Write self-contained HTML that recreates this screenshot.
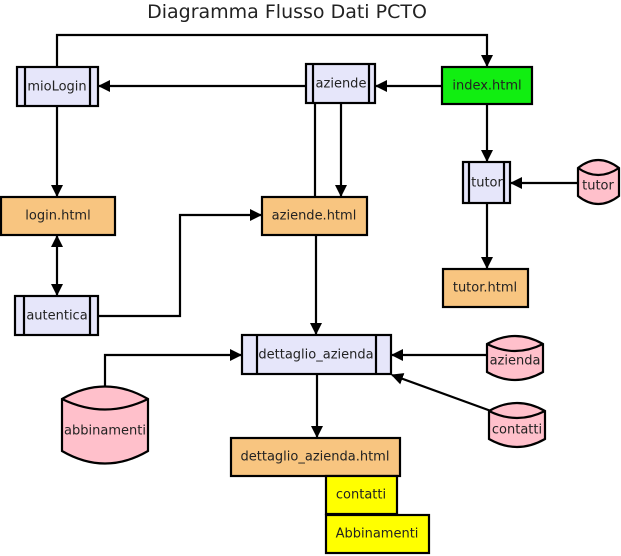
<!DOCTYPE html>
<html><head><meta charset="utf-8"><style>
html,body{margin:0;padding:0;background:#fff;}
svg{display:block;}
text{font-family:"DejaVu Sans","Liberation Sans",sans-serif;font-size:13px;fill:#222;text-anchor:middle;dominant-baseline:central;}
</style></head><body>
<svg width="621" height="556" viewBox="0 0 621 556" xmlns="http://www.w3.org/2000/svg">
<defs><marker id="a" markerWidth="12" markerHeight="12" refX="11" refY="6" orient="auto" markerUnits="userSpaceOnUse"><path d="M0,0 L12,6 L0,12 z" fill="#000"/></marker>
<marker id="s" markerWidth="12" markerHeight="12" refX="1" refY="6" orient="auto" markerUnits="userSpaceOnUse"><path d="M12,0 L0,6 L12,12 z" fill="#000"/></marker></defs>
<text x="287" y="12" style="font-size:19px">Diagramma Flusso Dati PCTO</text>
<g stroke="#000" stroke-width="2.2" fill="none">
<polyline points="57,67 57,35 487,35 487,66" marker-end="url(#a)"/>
<line x1="306" y1="86" x2="99" y2="86" marker-end="url(#a)"/>
<line x1="442" y1="86" x2="376" y2="86" marker-end="url(#a)"/>
<line x1="315" y1="103" x2="315" y2="197"/>
<line x1="341" y1="103" x2="341" y2="196" marker-end="url(#a)"/>
<line x1="316" y1="235" x2="316" y2="334" marker-end="url(#a)"/>
<line x1="487" y1="104" x2="487" y2="161" marker-end="url(#a)"/>
<line x1="578" y1="183" x2="511" y2="183" marker-end="url(#a)"/>
<line x1="487" y1="203" x2="487" y2="268" marker-end="url(#a)"/>
<line x1="57" y1="106" x2="57" y2="196" marker-end="url(#a)"/>
<line x1="57" y1="236" x2="57" y2="295" marker-start="url(#s)" marker-end="url(#a)"/>
<polyline points="98,316 180,316 180,215 261,215" marker-end="url(#a)"/>
<polyline points="105,387 105,355 241,355" marker-end="url(#a)"/>
<line x1="487" y1="355" x2="392" y2="355" marker-end="url(#a)"/>
<line x1="491" y1="411" x2="392" y2="375" marker-end="url(#a)"/>
<line x1="317" y1="374" x2="317" y2="437" marker-end="url(#a)"/>
</g>
<g stroke="#000" stroke-width="2.2">
<rect x="17" y="67" width="81" height="39" fill="#e6e6fa"/><line x1="25" y1="67" x2="25" y2="106"/><line x1="90" y1="67" x2="90" y2="106"/>
<rect x="306" y="64" width="69" height="39" fill="#e6e6fa"/><line x1="313" y1="64" x2="313" y2="103"/><line x1="369" y1="64" x2="369" y2="103"/>
<rect x="442" y="67" width="90" height="37" fill="#11ee11"/>
<rect x="463" y="162" width="47" height="41" fill="#e6e6fa"/><line x1="469" y1="162" x2="469" y2="203"/><line x1="504" y1="162" x2="504" y2="203"/>
<rect x="1" y="197" width="114" height="38" fill="#f8c580"/>
<rect x="262" y="197" width="105" height="38" fill="#f8c580"/>
<rect x="443" y="269" width="85" height="38" fill="#f8c580"/>
<rect x="15" y="296" width="83" height="39" fill="#e6e6fa"/><line x1="24" y1="296" x2="24" y2="335"/><line x1="90" y1="296" x2="90" y2="335"/>
<rect x="242" y="335" width="149" height="39" fill="#e6e6fa"/><line x1="257" y1="335" x2="257" y2="374"/><line x1="376" y1="335" x2="376" y2="374"/>
<rect x="231" y="438" width="169" height="38" fill="#f8c580"/>
<rect x="326" y="476" width="71" height="38" fill="#ffff00"/>
<rect x="326" y="515" width="103" height="38" fill="#ffff00"/>
<path d="M578,168 Q598,152 619,168 L619,196 Q598,212 578,196 Z" fill="#ffc0cb"/><path d="M578,168 Q598,182 619,168" fill="none"/>
<path d="M487,344 Q515,328 543,344 L543,372 Q515,388 487,372 Z" fill="#ffc0cb"/><path d="M487,344 Q515,358 543,344" fill="none"/>
<path d="M489,411 Q517,395 545,411 L545,439 Q517,455 489,439 Z" fill="#ffc0cb"/><path d="M489,411 Q517,425 545,411" fill="none"/>
<path d="M62,399 Q105,374 148,399 L148,451 Q105,476 62,451 Z" fill="#ffc0cb"/><path d="M62,399 Q105,420 148,399" fill="none"/>
</g>
<text x="57" y="87">mioLogin</text>
<text x="341" y="84">aziende</text>
<text x="487" y="86">index.html</text>
<text x="487" y="183">tutor</text>
<text x="598" y="186">tutor</text>
<text x="58" y="216">login.html</text>
<text x="314" y="216">aziende.html</text>
<text x="485" y="288">tutor.html</text>
<text x="57" y="316">autentica</text>
<text x="316" y="355">dettaglio_azienda</text>
<text x="515" y="361">azienda</text>
<text x="517" y="430">contatti</text>
<text x="105" y="431">abbinamenti</text>
<text x="315" y="457">dettaglio_azienda.html</text>
<text x="361" y="495">contatti</text>
<text x="377" y="534">Abbinamenti</text>
</svg>
</body></html>
